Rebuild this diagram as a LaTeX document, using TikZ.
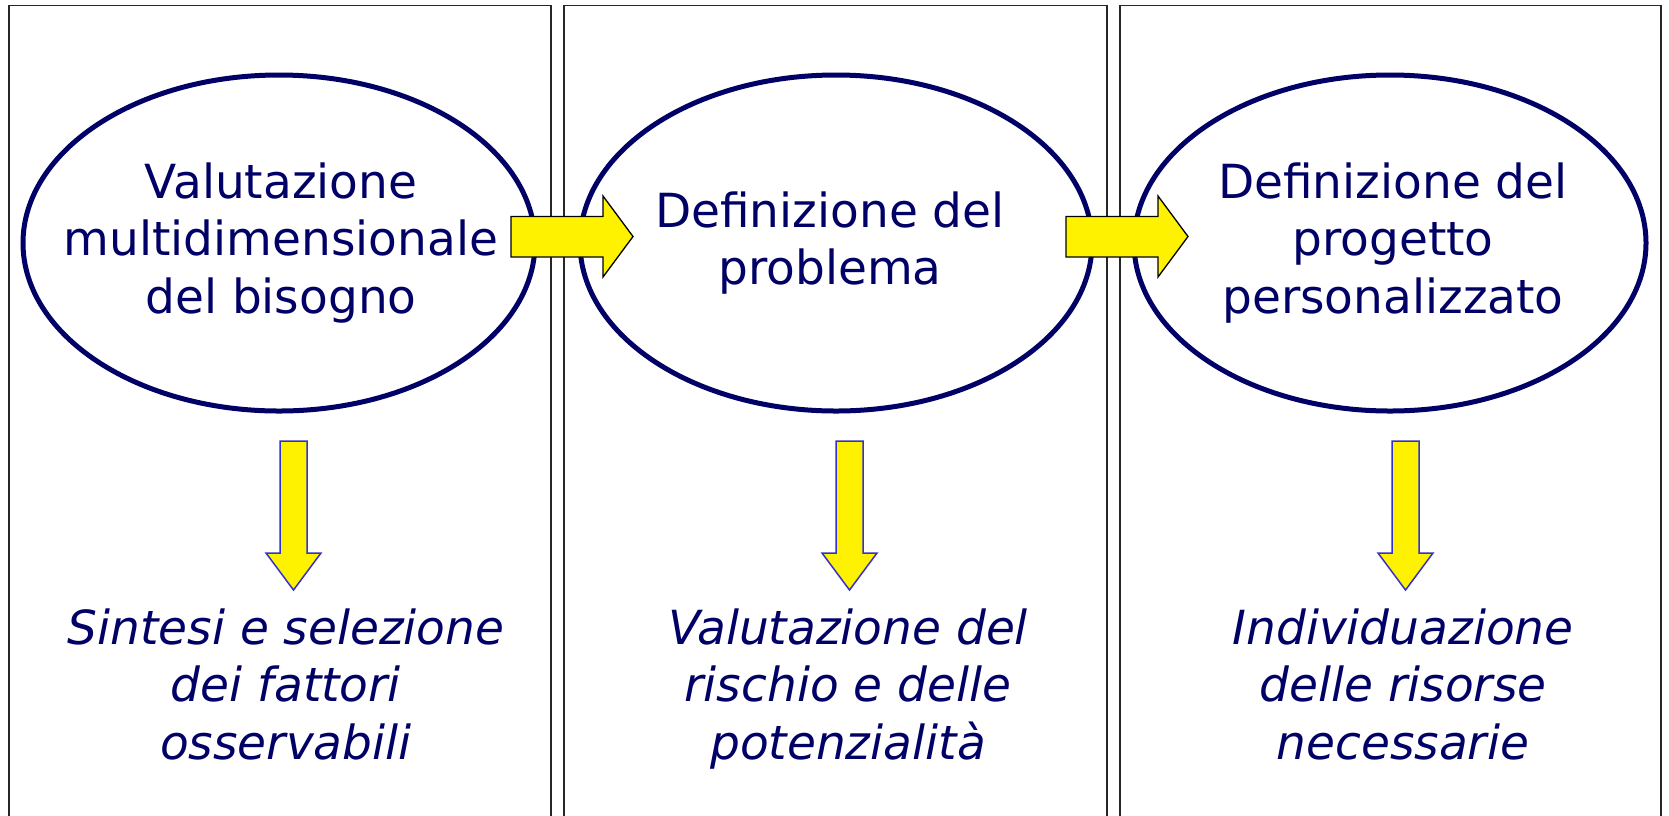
\documentclass[tikz,border=0pt]{standalone}
\usepackage{fontspec}
\setmainfont{DejaVu Sans}
\usetikzlibrary{positioning,shapes.geometric}
\definecolor{blu}{RGB}{0,0,102}
\definecolor{bordofreccia}{RGB}{51,51,204}
\tikzset{
    colonna/.style = {draw = black!85, line width = 1.5pt},
    fase/.style = {draw = blu, ellipse, line width = 5pt,
                   minimum width = 512pt, minimum height = 336pt, inner sep = 0pt},
    testo/.style = {text = blu, align = center, inner sep = 0pt,
                    font = \fontsize{47}{57.5}\selectfont},
    esito/.style = {testo, anchor = north, font = \fontsize{47}{57.5}\selectfont\itshape},
    avanti/.style = {draw = black, fill = yellow, line width = 1.3pt, line join = miter},
    giu/.style = {draw = bordofreccia, fill = yellow, line width = 1.5pt, line join = miter},
}
\begin{document}
\begin{tikzpicture}[x = 1pt, y = -1pt]
    \useasboundingbox (0,0) rectangle (1669,815);

    % tre colonne aperte in basso
    \foreach \a/\b in {9/551, 564/1107, 1120/1661}
        \draw [colonna] (\a,816) -- (\a,5.5) -- (\b,5.5) -- (\b,816);

    \node (f1) [fase] at (279,243) {};
    \node (f2) [fase] at (836,243) {};
    \node (f3) [fase] at (1390,243) {};

    \node (t1) [testo] at ([xshift=2pt]f1) {Valutazione\\multidimensionale\\del bisogno};
    \node (t2) [testo] at ([xshift=-6pt]f2) {Definizione del\\problema};
    \node (t3) [testo] at ([xshift=3pt]f3) {Definizione del\\progetto\\personalizzato};

    \node (e1) [esito] at (286,608.5) {Sintesi e selezione\\dei fattori\\osservabili};
    \node (e2) [esito] at (848,608.5) {Valutazione del\\rischio e delle\\potenzialità};
    \node (e3) [esito] at (1403,608.5) {Individuazione\\delle risorse\\necessarie};

    % frecce tra le fasi
    \foreach \x in {511, 1066}
        \draw [avanti] (\x,216.5) -- ({\x+92},216.5) -- ({\x+92},196)
            -- ({\x+122},236.5) -- ({\x+92},277) -- ({\x+92},257)
            -- (\x,257) -- cycle;

    % frecce verso gli esiti
    \foreach \c in {293.5, 849.5, 1405.5}
        \draw [giu] ({\c-13.5},441) -- ({\c+13.5},441) -- ({\c+13.5},553)
            -- ({\c+27.5},553) -- (\c,590) -- ({\c-27.5},553)
            -- ({\c-13.5},553) -- cycle;
\end{tikzpicture}
\end{document}
